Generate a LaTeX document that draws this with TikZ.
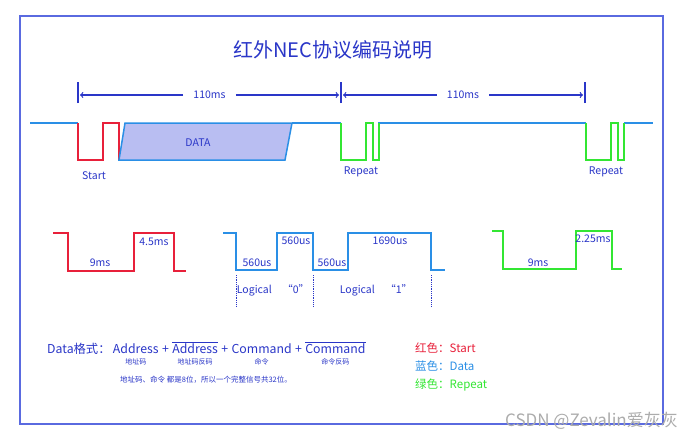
\documentclass[tikz,border=0pt]{standalone}
\usepackage{fontspec}
\newfontfamily\cjk{Noto Sans CJK SC}
\usetikzlibrary{positioning,calc}
\definecolor{startred}{HTML}{E8203A}
\definecolor{datablue}{HTML}{2A8FE6}
\definecolor{repgreen}{HTML}{33E633}
\definecolor{txtblue}{HTML}{2A36C8}
\definecolor{framecol}{HTML}{5A6AE0}
\definecolor{datafill}{HTML}{B9BEF2}

\begin{document}
\begin{tikzpicture}[
    x=1pt, y=-1pt,
    every node/.style={font=\cjk, text=txtblue, inner sep=1pt},
    sig/.style={line width=2pt},
    wave/.style={line width=2.5pt},
    lbl/.style={font=\cjk\fontsize{10.5}{12}\selectfont},
    term/.style={font=\cjk\fontsize{12.3}{14}\selectfont},
    sub/.style={font=\cjk\fontsize{7}{8}\selectfont},
    legend/.style={font=\cjk\fontsize{11.5}{13}\selectfont, anchor=west},
    tick/.style={line width=2pt, draw=txtblue},
    span/.style={->, line width=1.2pt, draw=txtblue},
    divider/.style={densely dotted, thick, draw=txtblue}
]
    \useasboundingbox (0,0) rectangle (690,442);
    \fill[white] (0,0) rectangle (690,442);
    \draw[framecol, line width=1.2pt] (20,16) rectangle (663,424);

    % Title
    \node[font=\cjk\fontsize{20}{24}\selectfont] (title) at (333,50) {红外NEC协议编码说明};

    % Time spans
    \coordinate (t1) at (78,95);
    \coordinate (t2) at (341,95);
    \coordinate (t3) at (585,95);
    \foreach \t in {t1,t2,t3}
        \draw[tick] ([yshift=-8pt]\t) -- ([yshift=13pt]\t);
    \node[lbl, inner xsep=10pt] (span1) at ($(t1)!0.5!(t2)$) {110ms};
    \node[lbl, inner xsep=10pt] (span2) at ($(t2)!0.5!(t3)$) {110ms};
    \draw[span] (span1.west) -- ([xshift=2pt]t1);
    \draw[span] (span1.east) -- ([xshift=-2pt]t2);
    \draw[span] (span2.west) -- ([xshift=2pt]t2);
    \draw[span] (span2.east) -- ([xshift=-2pt]t3);

    % Frame overview
    \draw[sig, datablue] (30,123) -- (78,123);
    \draw[sig, startred] (78,123) -- (78,160) -- (103,160) -- (103,123) -- (119,123) -- (119,160);
    \draw[line width=1.5pt, datablue, fill=datafill] (119,160) -- (125,123) -- (292,123) -- (285,160) -- cycle;
    \draw[sig, datablue] (292,123) -- (341,123);
    \draw[sig, datablue] (378,123) -- (586,123);
    \draw[sig, datablue] (624,123) -- (653,123);
    \foreach \x in {341,586}
        \draw[sig, repgreen] (\x,123) -- ++(0,37) -- ++(25,0) -- ++(0,-37) -- ++(7,0)
            -- ++(0,37) -- ++(6,0) -- ++(0,-37);
    \node[lbl] (data) at (198,143) {DATA};
    \node[lbl] (start) at (94,176) {Start};
    \node[lbl] (rep1) at (361,172) {Repeat};
    \node[lbl] (rep2) at (606,172) {Repeat};

    % Start pulse
    \draw[wave, startred] (53,233) -- (68,233) -- (68,271) -- (134,271) -- (134,233) -- (174,233) -- (174,271) -- (186,271);
    \node[lbl] (s9) at (100,263) {9ms};
    \node[lbl] (s45) at (154,242) {4.5ms};

    % Data bits
    \draw[wave, datablue] (223,233) -- (236,233) -- (236,270) -- (277,270) -- (277,233) -- (313,233) -- (313,270)
        -- (348,270) -- (348,233) -- (431,233) -- (431,270) -- (445,270);
    \node[lbl] (low0) at (257,263) {560us};
    \node[lbl] (high0) at (296,241) {560us};
    \node[lbl] (low1) at (332,263) {560us};
    \node[lbl] (high1) at (390,241) {1690us};
    \foreach \x in {236,313,431}
        \draw[divider] (\x,275) -- (\x,307);
    \node[lbl] (bit0) at (273,290) {Logical\quad “0”};
    \node[lbl] (bit1) at (376,290) {Logical\quad “1”};

    % Repeat pulse
    \draw[wave, repgreen] (492,231) -- (503,231) -- (503,269) -- (576,269) -- (576,231) -- (612,231) -- (612,269) -- (622,269);
    \node[lbl] (r9) at (538,263) {9ms};
    \node[lbl] (r225) at (593,239) {2.25ms};

    % Data format
    \node[term, anchor=base west] (fmt) at (46,353) {Data格式：};
    \node[term, base right=0pt of fmt] (addr) {Address};
    \node[term, base right=1pt of addr] (plus1) {+};
    \node[term, base right=1pt of plus1] (naddr) {$\overline{\mbox{Address}}$};
    \node[term, base right=1pt of naddr] (plus2) {+};
    \node[term, base right=1pt of plus2] (cmd) {Command};
    \node[term, base right=1pt of cmd] (plus3) {+};
    \node[term, base right=1pt of plus3] (ncmd) {$\overline{\mbox{Command}}$};
    \node[sub, below=3pt of addr] (addrsub) {地址码};
    \node[sub, below=3pt of naddr] (naddrsub) {地址码反码};
    \node[sub, below=3pt of cmd] (cmdsub) {命令};
    \node[sub, below=3pt of ncmd] (ncmdsub) {命令反码};
    \node[sub, font=\cjk\fontsize{7.5}{9}\selectfont] (note) at (206,380) {地址码、命令 都是8位，所以一个完整信号共32位。};

    % Legend
    \node[legend, text=startred] (kred) at (414,348) {红色：Start};
    \node[legend, text=datablue] (kblue) at (414,366) {蓝色：Data};
    \node[legend, text=repgreen] (kgreen) at (414,385) {绿色：Repeat};

    % Watermark
    \node[anchor=east, text=gray!65, font=\cjk\fontsize{17}{20}\selectfont] (mark) at (679,421) {CSDN @Zevalin爱灰灰};
\end{tikzpicture}
\end{document}
